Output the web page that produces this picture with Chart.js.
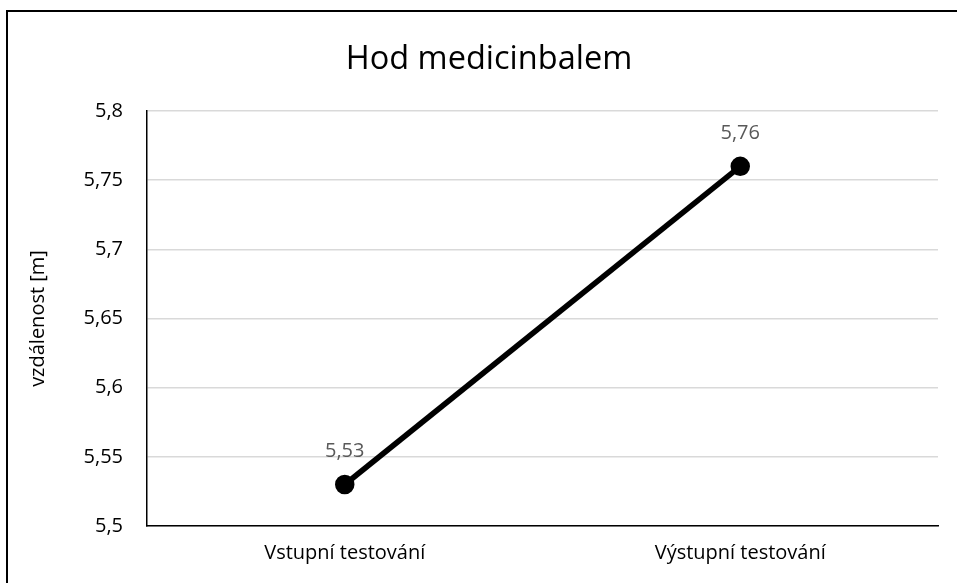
<!DOCTYPE html>
<html>
<head>
<meta charset="utf-8">
<script src="https://cdn.jsdelivr.net/npm/chart.js@4/dist/chart.umd.min.js"></script>
<style>
    html, body { margin: 0; padding: 0; background: #fff; overflow: hidden; }
    #wrap { position: relative; width: 957px; height: 583px; }
    #ramecek {
        position: absolute; left: 6px; top: 10px; width: 1000px; height: 700px;
        border: 2px solid #000; pointer-events: none;
    }
</style>
</head>
<body>
<div id="wrap">
    <canvas id="graf" width="957" height="583"></canvas>
    <div id="ramecek"></div>
</div>
<script>
const nazevGrafu = "Hod medicinbalem";
const popisOsyY = "vzdálenost [m]";
const kategorie = ["Vstupní testování", "Výstupní testování"];
const hodnoty = [5.53, 5.76];

const pismo = "'Open Sans', 'Noto Sans', sans-serif";

// nadpis - v originale je vycentrovany na cely ramecek grafu (ktery presahuje obrazek)
const nadpis = {
    id: "nadpis",
    afterDraw(chart) {
        const ctx = chart.ctx;
        ctx.save();
        ctx.font = "32.5px " + pismo;
        ctx.fillStyle = "#000";
        ctx.textAlign = "center";
        ctx.textBaseline = "middle";
        ctx.fillText(nazevGrafu, 489, 60);
        ctx.restore();
    }
};

// popisky hodnot nad body
const popiskyHodnot = {
    id: "popiskyHodnot",
    afterDatasetsDraw(chart) {
        const ctx = chart.ctx;
        const meta = chart.getDatasetMeta(0);
        ctx.save();
        ctx.font = "20px " + pismo;
        ctx.fillStyle = "#595959";
        ctx.textAlign = "center";
        ctx.textBaseline = "middle";
        meta.data.forEach((bod, i) => {
            ctx.fillText(String(hodnoty[i]).replace(".", ","), bod.x, bod.y - 33);
        });
        ctx.restore();
    }
};

const config = {
    type: "line",
    data: {
        labels: kategorie,
        datasets: [{
            data: hodnoty,
            borderColor: "#000",
            backgroundColor: "#000",
            borderWidth: 5.5,
            pointRadius: 7,
            pointHoverRadius: 7,
            tension: 0
        }]
    },
    options: {
        responsive: false,
        animation: false,
        layout: { padding: { left: 0, right: 19, top: 111, bottom: 0 } },
        plugins: {
            legend: { display: false },
            tooltip: { enabled: false },
            title: { display: false }
        },
        scales: {
            x: {
                offset: true,
                grid: { display: false, drawTicks: false },
                border: { color: "#000", width: 1.5 },
                ticks: {
                    color: "#000",
                    font: { family: pismo, size: 20 },
                    padding: 15,
                    maxRotation: 0
                },
                afterFit(scale) { scale.height = 57; }
            },
            y: {
                min: 5.5,
                max: 5.8,
                grid: { color: "#d9d9d9", lineWidth: 1.5, drawTicks: false },
                border: { color: "#000", width: 1.5 },
                ticks: {
                    stepSize: 0.05,
                    color: "#000",
                    font: { family: pismo, size: 20 },
                    padding: 24,
                    callback: (v) => String(Math.round(v * 100) / 100).replace(".", ",")
                },
                title: {
                    display: true,
                    text: popisOsyY,
                    color: "#000",
                    font: { family: pismo, size: 20 },
                    padding: { top: 26, bottom: 0 }
                },
                afterFit(scale) { scale.width = 147; }
            }
        }
    },
    plugins: [popiskyHodnot, nadpis]
};

let myChart = new Chart(document.getElementById("graf"), config);
</script>
</body>
</html>
